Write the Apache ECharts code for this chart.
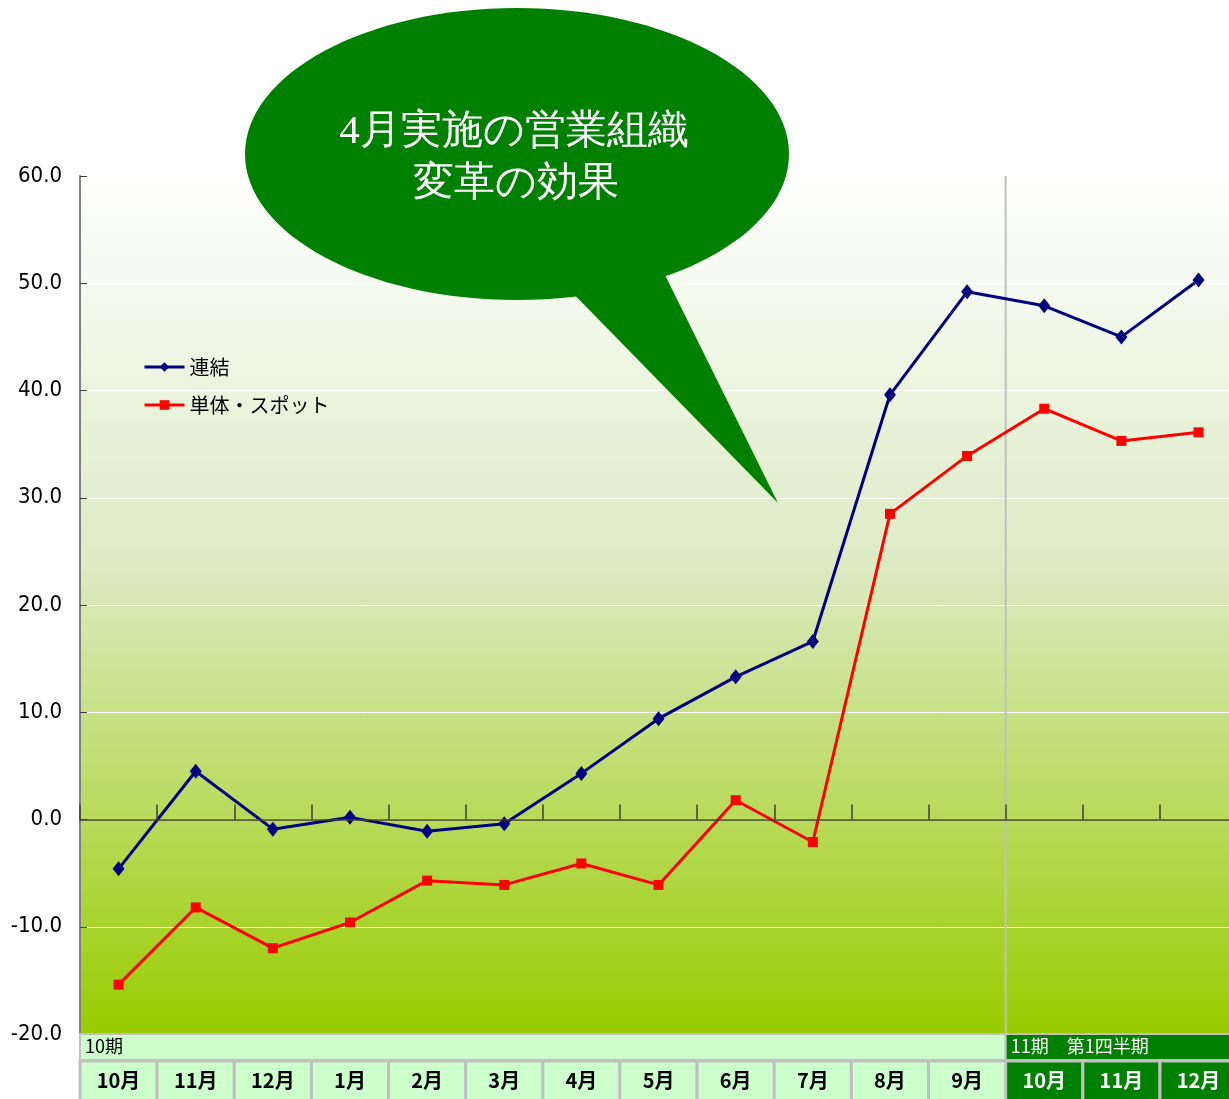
<!DOCTYPE html>
<html>
<head>
<meta charset="utf-8">
<script src="https://cdn.jsdelivr.net/npm/echarts@6/dist/echarts.min.js"></script>
<style>
  html, body { margin: 0; padding: 0; background: #fff; }
  #main { width: 1229px; height: 1099px; }
</style>
</head>
<body>
<div id="main"></div>
<script>
const months = ["10月", "11月", "12月", "1月", "2月", "3月", "4月", "5月", "6月", "7月", "8月", "9月", "10月", "11月", "12月"];
const renketsu = [-4.6, 4.5, -0.9, 0.2, -1.1, -0.4, 4.3, 9.4, 13.3, 16.6, 39.6, 49.2, 47.9, 45.0, 50.3];
const tantai = [-15.4, -8.2, -12.0, -9.6, -5.7, -6.1, -4.1, -6.1, 1.8, -2.1, 28.5, 33.9, 38.3, 35.3, 36.1];
const yTicks = { min: -20, max: 60, step: 10 };
const periodLabels = ["10期", "11期\u3000第1四半期"];
const splitIndex = 12; // first month of 11期

const chart = echarts.init(document.getElementById("main"));

const gridLeft = 80;
const gridTop = 176;
const gridHeight = 858;
const cellW = 77.14;
const gridWidth = cellW * months.length;
const rowTop = gridTop + gridHeight;

// table cells under the chart
const cells = [];
const row1H = 26, row2Top = rowTop + 27, row2H = 40;
cells.push({
  type: "rect", z: 1,
  shape: { x: gridLeft, y: rowTop, width: cellW * splitIndex, height: row1H },
  style: { fill: "#ccffcc", stroke: "#c0c0c0", lineWidth: 2 }
});
cells.push({
  type: "rect", z: 1,
  shape: { x: gridLeft + cellW * splitIndex, y: rowTop, width: cellW * (months.length - splitIndex), height: row1H },
  style: { fill: "#008000", stroke: "#c0c0c0", lineWidth: 2 }
});
months.forEach(function (m, i) {
  cells.push({
    type: "rect", z: 1,
    shape: { x: gridLeft + cellW * i, y: row2Top, width: cellW, height: row2H },
    style: { fill: i >= splitIndex ? "#008000" : "#ccffcc", stroke: "#c0c0c0", lineWidth: 3 }
  });
});
cells.push({
  type: "text", z: 2, left: gridLeft + 5, top: rowTop + 3,
  style: { text: periodLabels[0], fill: "#000", font: "18px 'Noto Sans CJK JP'" }
});
cells.push({
  type: "text", z: 2, left: gridLeft + cellW * splitIndex + 5, top: rowTop + 3,
  style: { text: periodLabels[1], fill: "#fff", font: "18px 'Noto Sans CJK JP'" }
});
// period separator line
cells.push({
  type: "line", z: 3,
  shape: { x1: gridLeft + cellW * splitIndex, y1: gridTop, x2: gridLeft + cellW * splitIndex, y2: rowTop },
  style: { stroke: "#c0c0c0", lineWidth: 2 }
});

// speech bubble
const bubble = [
  {
    type: "polygon", z: 20,
    shape: { points: [[560, 280], [665, 275], [778, 503]] },
    style: { fill: "#008000" }
  },
  {
    type: "ellipse", z: 21,
    shape: { cx: 517, cy: 154, rx: 272, ry: 146 },
    style: { fill: "#008000" }
  },
  {
    type: "text", z: 22, x: 514, y: 132,
    style: {
      text: "4月実施の営業組織", fill: "#fff", align: "center", verticalAlign: "middle",
      font: "41px serif"
    }
  },
  {
    type: "text", z: 22, x: 516, y: 184,
    style: {
      text: "変革の効果", fill: "#fff", align: "center", verticalAlign: "middle",
      font: "41px serif"
    }
  }
];

const option = {
  animation: false,
  grid: {
    left: gridLeft, top: gridTop, width: gridWidth, height: gridHeight,
    outerBoundsMode: "none", containLabel: false,
    show: true, borderWidth: 0,
    backgroundColor: new echarts.graphic.LinearGradient(0, 0, 0, 1, [
      { offset: 0, color: "#ffffff" },
      { offset: 0.45, color: "#dcebc4" },
      { offset: 1, color: "#99cc00" }
    ])
  },
  legend: {
    left: 138, top: 352, orient: "vertical", itemGap: 18,
    itemWidth: 40, itemHeight: 12,
    lineStyle: { width: 3 },
    textStyle: { fontSize: 20, color: "#000", fontFamily: "'Noto Sans CJK JP'" },
    data: ["連結", "単体・スポット"]
  },
  xAxis: [
    {
      type: "category", data: months, z: 5,
      axisLine: { show: true, onZero: true, lineStyle: { color: "#404030", width: 1.5 } },
      axisTick: { show: true, interval: 0, inside: true, length: 15, lineStyle: { color: "#404030", width: 1.5 } },
      axisLabel: { show: false },
      splitLine: { show: false }
    },
    {
      type: "category", data: months, position: "bottom", offset: 28, z: 10,
      axisLine: { show: false }, axisTick: { show: false },
      axisLabel: {
        interval: 0, margin: 8, fontSize: 20, fontWeight: "bold", fontFamily: "'Noto Sans CJK JP'",
        color: function (v, i) { return i >= splitIndex ? "#fff" : "#000"; }
      }
    }
  ],
  yAxis: {
    type: "value", min: yTicks.min, max: yTicks.max, interval: yTicks.step,
    axisLine: { show: true, lineStyle: { color: "#808080", width: 2 } },
    axisTick: { show: true, inside: true, length: 7, lineStyle: { color: "#404040" } },
    axisLabel: {
      margin: 18, fontSize: 22, color: "#000", fontFamily: "'DejaVu Sans Condensed', 'Liberation Sans Narrow', 'Liberation Sans'",
      formatter: function (v) { return v.toFixed(1); }
    },
    splitLine: { show: true, lineStyle: { color: "#ffffff", width: 1 } }
  },
  series: [
    {
      name: "連結", type: "line", data: renketsu, z: 4,
      symbol: "diamond", symbolSize: [12, 15],
      lineStyle: { color: "#000080", width: 3 },
      itemStyle: { color: "#000080" }
    },
    {
      name: "単体・スポット", type: "line", data: tantai, z: 3,
      symbol: "rect", symbolSize: 10,
      lineStyle: { color: "#ff0000", width: 3 },
      itemStyle: { color: "#ff0000" }
    }
  ],
  graphic: cells.concat(bubble)
};

chart.setOption(option);
</script>
</body>
</html>
